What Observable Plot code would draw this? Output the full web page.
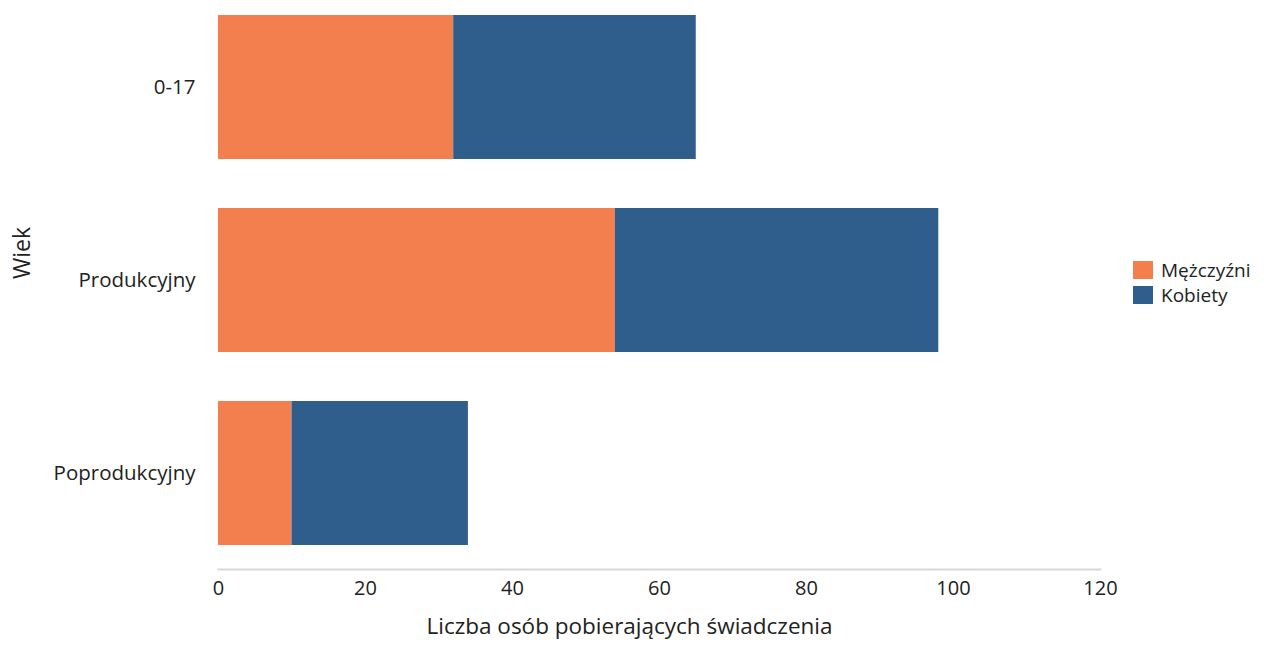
<!DOCTYPE html>
<html>
<head>
<meta charset="utf-8">
<script src="https://cdn.jsdelivr.net/npm/d3@7"></script>
<script src="https://cdn.jsdelivr.net/npm/@observablehq/plot@0.6"></script>
<style>
  html, body { margin: 0; padding: 0; background: #fff; }
  #wrap { position: relative; width: 1264px; height: 646px; font-family: "Open Sans", sans-serif; }
  #legend { position: absolute; left: 1133px; top: 257px; font-size: 19px; color: #222; }
  #legend .item { display: flex; align-items: center; height: 25px; }
  #legend .sw { width: 20px; height: 18px; margin-right: 8px; }
  #legend .lbl { display: inline-block; line-height: 20px; height: 20px; }
</style>
</head>
<body>
<div id="wrap"><div id="chart"></div><div id="legend"></div></div>
<script>
const categories = ["0-17", "Produkcyjny", "Poprodukcyjny"];
const series = ["Mężczyźni", "Kobiety"];
const men = [32, 54, 10];
const women = [33, 44, 24];
const xTicks = [0, 20, 40, 60, 80, 100, 120];
const colors = ["#f37e4e", "#2f5e8d"];
const xTitle = "Liczba osób pobierających świadczenia";
const yTitle = "Wiek";

const data = [];
categories.forEach((c, i) => {
  data.push({wiek: c, seria: series[0], value: men[i]});
  data.push({wiek: c, seria: series[1], value: women[i]});
});

const chart = Plot.plot({
  width: 1264,
  height: 646,
  marginLeft: 218,
  marginRight: 164,
  marginTop: 0,
  marginBottom: 77,
  style: {fontFamily: "'Open Sans', sans-serif", fontSize: "20px", color: "#222", background: "#fff"},
  x: {domain: [0, 120], ticks: xTicks, label: null},
  y: {domain: categories, paddingInner: 0.254, paddingOuter: 0.101, align: 0.385, label: null},
  color: {domain: series, range: colors},
  marks: [
    Plot.frame({anchor: "bottom", stroke: "#d8d8d8", strokeWidth: 2}),
    Plot.barX(data, Plot.stackX({x: "value", y: "wiek", fill: "seria", order: series})),
    Plot.axisX({ticks: xTicks, tickSize: 0, tickPadding: 11, fontSize: 20, label: null}),
    Plot.axisY({tickSize: 0, tickPadding: 23, fontSize: 20.5, label: null}),
    Plot.text([xTitle], {frameAnchor: "bottom", dx: -30, dy: 64, fontSize: 22.5, fill: "#222"}),
    Plot.text([yTitle], {frameAnchor: "left", rotate: -90, dx: -196, dy: -6, fontSize: 23, fill: "#222"})
  ]
});
document.getElementById("chart").appendChild(chart);

const legend = document.getElementById("legend");
series.forEach((s, i) => {
  const item = document.createElement("div");
  item.className = "item";
  const sw = document.createElement("div");
  sw.className = "sw";
  sw.style.background = colors[i];
  const t = document.createElement("span");
  t.className = "lbl";
  t.textContent = s;
  item.appendChild(sw);
  item.appendChild(t);
  legend.appendChild(item);
});
</script>
</body>
</html>
